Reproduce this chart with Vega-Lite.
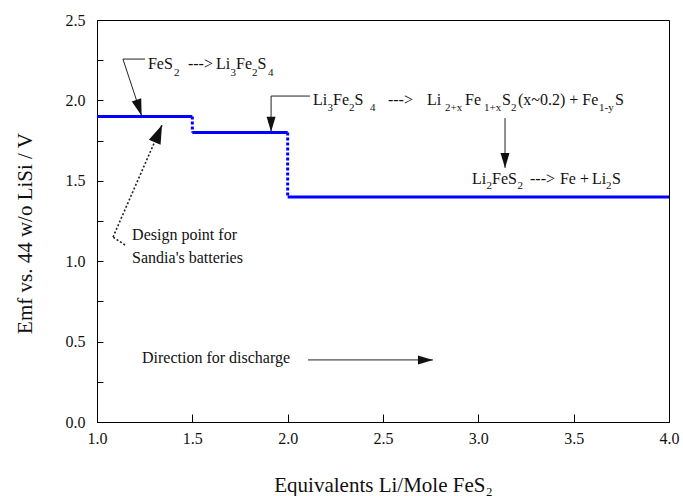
{
  "$schema": "https://vega.github.io/schema/vega-lite/v6.json",
  "width": 572,
  "height": 402,
  "autosize": {"type": "none"},
  "padding": {"left": 97, "top": 20, "right": 14, "bottom": 74},
  "background": "white",
  "config": {
    "font": "Liberation Serif",
    "view": {"stroke": "#000", "strokeWidth": 1},
    "axis": {
      "grid": false,
      "domainColor": "#000",
      "tickColor": "#000",
      "labelColor": "#111",
      "titleColor": "#111",
      "labelFont": "Liberation Serif",
      "titleFont": "Liberation Serif",
      "labelFontSize": 16,
      "titleFontSize": 21,
      "titleFontWeight": "normal",
      "labelFlush": false,
      "labelOverlap": false
    }
  },
  "datasets": {
    "steps": [
      {"x": 1.0, "x2": 1.5, "y": 1.9},
      {"x": 1.5, "x2": 2.0, "y": 1.8},
      {"x": 2.0, "x2": 4.0, "y": 1.4}
    ],
    "drops": [
      {"x": 1.5, "y": 1.9, "y2": 1.8},
      {"x": 2.0, "y": 1.8, "y2": 1.4}
    ],
    "leaders": [
      {"x": 1.252, "y": 2.257, "x2": 1.136, "y2": 2.257},
      {"x": 1.136, "y": 2.257, "x2": 1.234, "y2": 1.905},
      {"x": 2.117, "y": 2.027, "x2": 1.913, "y2": 2.027},
      {"x": 1.913, "y": 2.027, "x2": 1.913, "y2": 1.805},
      {"x": 3.140, "y": 1.890, "x2": 3.140, "y2": 1.580},
      {"x": 2.107, "y": 0.386, "x2": 2.762, "y2": 0.386}
    ],
    "dotted": [
      {"x": 1.147, "y": 1.101, "x2": 1.084, "y2": 1.150},
      {"x": 1.084, "y": 1.150, "x2": 1.341, "y2": 1.847}
    ],
    "heads": [
      {"x": 1.234, "y": 1.905, "dir": "fes2"},
      {"x": 1.913, "y": 1.805, "dir": "down"},
      {"x": 3.140, "y": 1.580, "dir": "down"},
      {"x": 2.762, "y": 0.386, "dir": "right"},
      {"x": 1.341, "y": 1.847, "dir": "design"}
    ],
    "mainText": [
      {"x": 1.267, "y": 2.226, "text": "FeS"},
      {"x": 1.477, "y": 2.226, "text": "--->"},
      {"x": 1.624, "y": 2.226, "text": "Li"},
      {"x": 1.729, "y": 2.226, "text": "Fe"},
      {"x": 1.842, "y": 2.226, "text": "S"},
      {"x": 2.133, "y": 2.002, "text": "Li"},
      {"x": 2.238, "y": 2.002, "text": "Fe"},
      {"x": 2.350, "y": 2.002, "text": "S"},
      {"x": 2.526, "y": 2.002, "text": "--->"},
      {"x": 2.731, "y": 2.002, "text": "Li"},
      {"x": 2.930, "y": 2.002, "text": "Fe"},
      {"x": 3.124, "y": 2.002, "text": "S"},
      {"x": 3.208, "y": 2.002, "text": "(x~0.2) + Fe"},
      {"x": 3.717, "y": 2.002, "text": "S"},
      {"x": 2.967, "y": 1.511, "text": "Li"},
      {"x": 3.072, "y": 1.511, "text": "FeS"},
      {"x": 3.271, "y": 1.511, "text": "--->"},
      {"x": 3.428, "y": 1.511, "text": "Fe +"},
      {"x": 3.596, "y": 1.511, "text": "Li"},
      {"x": 3.701, "y": 1.511, "text": "S"},
      {"x": 1.184, "y": 1.160, "text": "Design point for"},
      {"x": 1.184, "y": 1.023, "text": "Sandia's batteries"},
      {"x": 1.236, "y": 0.398, "text": "Direction for discharge"}
    ],
    "subText": [
      {"x": 1.404, "y": 2.170, "text": "2"},
      {"x": 1.700, "y": 2.170, "text": "3"},
      {"x": 1.813, "y": 2.170, "text": "2"},
      {"x": 1.897, "y": 2.170, "text": "4"},
      {"x": 2.209, "y": 1.953, "text": "3"},
      {"x": 2.322, "y": 1.953, "text": "2"},
      {"x": 2.432, "y": 1.953, "text": "4"},
      {"x": 2.825, "y": 1.953, "text": "2+x"},
      {"x": 3.030, "y": 1.953, "text": "1+x"},
      {"x": 3.171, "y": 1.953, "text": "2"},
      {"x": 3.633, "y": 1.953, "text": "1-y"},
      {"x": 3.043, "y": 1.468, "text": "2"},
      {"x": 3.205, "y": 1.468, "text": "2"},
      {"x": 3.669, "y": 1.468, "text": "2"}
    ]
  },
  "encoding": {
    "x": {
      "field": "x",
      "type": "quantitative",
      "scale": {"domain": [1, 4], "nice": false, "zero": false},
      "axis": {
        "title": "Equivalents Li/Mole FeS₂",
        "values": [1, 1.5, 2, 2.5, 3, 3.5, 4],
        "format": ".1f",
        "tickSize": -8,
        "labelPadding": 16,
        "titleX": 286,
        "titleY": 63,
        "titleBaseline": "middle",
        "titleAlign": "center"
      }
    },
    "y": {
      "field": "y",
      "type": "quantitative",
      "scale": {"domain": [0, 2.5], "nice": false, "zero": false},
      "axis": {
        "title": "Emf vs. 44 w/o LiSi / V",
        "values": [0, 0.25, 0.5, 0.75, 1, 1.25, 1.5, 1.75, 2, 2.25, 2.5],
        "labelExpr": "(datum.value * 4) % 2 == 0 ? format(datum.value, '.1f') : ''",
        "tickSize": -6,
        "labelPadding": 18,
        "titleAngle": 270,
        "titleX": -72,
        "titleY": 213,
        "titleBaseline": "middle",
        "titleAlign": "center"
      }
    }
  },
  "layer": [
    {
      "data": {"name": "steps"},
      "mark": {"type": "rule", "color": "#0000ff", "strokeWidth": 3},
      "encoding": {"x2": {"field": "x2"}}
    },
    {
      "data": {"name": "drops"},
      "mark": {"type": "rule", "color": "#0000ff", "strokeWidth": 3, "strokeDash": [3, 2]},
      "encoding": {"y2": {"field": "y2"}}
    },
    {
      "data": {"name": "leaders"},
      "mark": {"type": "rule", "color": "#222", "strokeWidth": 1},
      "encoding": {"x2": {"field": "x2"}, "y2": {"field": "y2"}}
    },
    {
      "data": {"name": "dotted"},
      "mark": {"type": "rule", "color": "#222", "strokeWidth": 1.6, "strokeDash": [2, 2]},
      "encoding": {"x2": {"field": "x2"}, "y2": {"field": "y2"}}
    },
    {
      "data": {"name": "heads"},
      "transform": [{"filter": "datum.dir == 'down'"}],
      "mark": {"type": "point", "shape": "M0,0L-0.3,-1L0.3,-1Z", "filled": true, "color": "#111", "opacity": 1, "size": 900, "angle": 0}
    },
    {
      "data": {"name": "heads"},
      "transform": [{"filter": "datum.dir == 'right'"}],
      "mark": {"type": "point", "shape": "M0,0L-0.3,-1L0.3,-1Z", "filled": true, "color": "#111", "opacity": 1, "size": 900, "angle": 270}
    },
    {
      "data": {"name": "heads"},
      "transform": [{"filter": "datum.dir == 'fes2'"}],
      "mark": {"type": "point", "shape": "M0,0L-0.3,-1L0.3,-1Z", "filled": true, "color": "#111", "opacity": 1, "size": 1100, "angle": 342}
    },
    {
      "data": {"name": "heads"},
      "transform": [{"filter": "datum.dir == 'design'"}],
      "mark": {"type": "point", "shape": "M0,0L-0.34,-1L0.34,-1Z", "filled": true, "color": "#111", "opacity": 1, "size": 1400, "angle": 203}
    },
    {
      "data": {"name": "mainText"},
      "mark": {"type": "text", "align": "left", "baseline": "middle", "fontSize": 16, "color": "#111", "font": "Liberation Serif"},
      "encoding": {"text": {"field": "text"}}
    },
    {
      "data": {"name": "subText"},
      "mark": {"type": "text", "align": "left", "baseline": "middle", "fontSize": 11, "color": "#111", "font": "Liberation Serif"},
      "encoding": {"text": {"field": "text"}}
    }
  ]
}
